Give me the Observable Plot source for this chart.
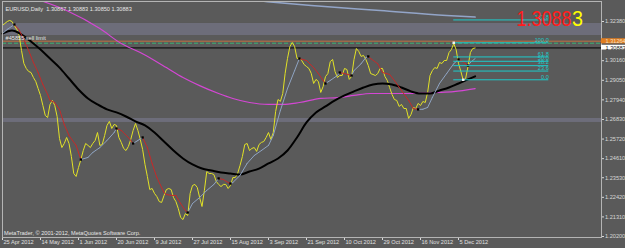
<!DOCTYPE html>
<html><head><meta charset="utf-8">
<script src="https://cdn.jsdelivr.net/npm/d3@7"></script>
<script src="https://cdn.jsdelivr.net/npm/@observablehq/plot@0.6"></script>
<style>
html,body{margin:0;padding:0;background:#5a5a5a;overflow:hidden;}
#chart svg{display:block;}
</style></head><body><div id="chart"></div>
<script>
// ---- data ----
const headerText = "EURUSD,Daily  1.30867 1.30883 1.30850 1.30883";
const copyrightText = "MetaTrader, \u00A9 2001-2012, MetaQuotes Software Corp.";
const orderText = "#45855 sell limit";
const dateBars = [0,16,32,48,64,80,96,112,128,144,160,176,192];
const dateLabels = ["25 Apr 2012","14 May 2012","1 Jun 2012","20 Jun 2012","9 Jul 2012","27 Jul 2012","15 Aug 2012","3 Sep 2012","21 Sep 2012","10 Oct 2012","29 Oct 2012","16 Nov 2012","5 Dec 2012"];
const priceTicks = [1.32380,1.30160,1.29050,1.27940,1.26830,1.25720,1.24610,1.23530,1.22420,1.21310,1.20200];

// daily close, one value per bar starting 25 Apr 2012
const closeValues = [
1.3216,1.3227,1.3238,1.3244,1.3238,1.3216,1.3193,1.3159,1.3074,1.3000,
1.2972,1.2955,1.2949,1.2921,1.2898,1.2858,1.2819,1.2762,1.2706,1.2694,
1.2768,1.2791,1.2762,1.2700,1.2575,1.2524,1.2547,1.2581,1.2547,1.2473,
1.2377,1.2360,1.2411,1.2456,1.2507,1.2547,1.2536,1.2524,1.2547,1.2564,
1.2609,1.2536,1.2541,1.2592,1.2649,1.2672,1.2632,1.2655,1.2649,1.2581,
1.2553,1.2519,1.2507,1.2530,1.2570,1.2621,1.2660,1.2621,1.2570,1.2513,
1.2428,1.2360,1.2286,1.2292,1.2264,1.2246,1.2218,1.2213,1.2252,1.2286,
1.2292,1.2286,1.2241,1.2218,1.2179,1.2128,1.2116,1.2150,1.2139,1.2264,
1.2309,1.2315,1.2298,1.2241,1.2190,1.2281,1.2388,1.2377,1.2377,1.2371,
1.2332,1.2315,1.2303,1.2315,1.2315,1.2292,1.2309,1.2354,1.2354,1.2377,
1.2422,1.2473,1.2541,1.2547,1.2507,1.2519,1.2524,1.2502,1.2541,1.2553,
1.2558,1.2581,1.2609,1.2570,1.2609,1.2728,1.2796,1.2785,1.2830,1.2944,
1.3029,1.3096,1.3119,1.3096,1.3029,1.3029,1.3017,1.2994,1.2983,1.2972,
1.2944,1.2887,1.2910,1.2898,1.2836,1.2870,1.2926,1.2943,1.3011,1.3023,
1.2955,1.2921,1.2932,1.2932,1.2972,1.2966,1.2910,1.2927,1.3023,1.3085,
1.3068,1.3040,1.3046,1.3023,1.2989,1.2943,1.2938,1.2932,1.2943,1.2972,
1.2972,1.2927,1.2904,1.2864,1.2825,1.2796,1.2791,1.2757,1.2768,1.2745,
1.2745,1.2689,1.2711,1.2751,1.2745,1.2774,1.2762,1.2785,1.2779,1.2836,
1.2932,1.2960,1.2977,1.2972,1.3006,1.3000,1.3017,1.3017,1.3062,1.3079,
1.3113,1.3079,1.3000,1.2955,1.2904,1.2915,1.2983,1.3062,1.3085,1.3088];

// colour-changing moving average
const maBars = [0,2,5,7,9,11,13,15,17,19,20,22,24,26,28,31,33,36,38,41,44,47,48,50,53,55,57,59,61,63,65,68,69,71,73,75,77,78,80,83,86,89,91,93,95,96,97,100,103,106,109,112,114,117,120,123,125,128,131,133,135,136,138,141,142,144,147,148,151,153,154,155,158,160,163,165,168,171,173,175,177,179,181,184,187,190,192,193,195,196,197,199];
const maValues = [1.3170,1.3193,1.3221,1.3190,1.3135,1.3074,1.3006,1.2949,1.2881,1.2825,1.2791,1.2779,1.2740,1.2655,1.2592,1.2536,1.2456,1.2468,1.2496,1.2524,1.2564,1.2609,1.2632,1.2621,1.2581,1.2547,1.2564,1.2581,1.2524,1.2434,1.2354,1.2269,1.2258,1.2253,1.2252,1.2207,1.2167,1.2156,1.2207,1.2241,1.2281,1.2315,1.2349,1.2343,1.2326,1.2320,1.2326,1.2366,1.2434,1.2479,1.2507,1.2536,1.2592,1.2734,1.2858,1.2960,1.3028,1.3017,1.2977,1.2943,1.2904,1.2887,1.2904,1.2932,1.2949,1.2943,1.2932,1.2960,1.2999,1.3034,1.3040,1.3028,1.2999,1.2949,1.2938,1.2904,1.2847,1.2791,1.2745,1.2740,1.2741,1.2751,1.2808,1.2887,1.2943,1.2999,1.3023,1.3017,1.2999,1.2988,1.3006,1.3028];

// thick black moving average
const slowBars = [0,4,8,12,16,20,24,28,32,36,40,44,48,52,56,60,64,68,72,76,80,84,88,92,96,100,104,108,112,116,120,124,128,132,136,140,144,148,152,156,160,164,168,172,176,180,184,188,192,196,199];
const slowValues = [1.3170,1.3187,1.3164,1.3125,1.3079,1.3028,1.2977,1.2915,1.2853,1.2802,1.2768,1.2740,1.2723,1.2700,1.2672,1.2649,1.2609,1.2558,1.2507,1.2462,1.2428,1.2405,1.2394,1.2383,1.2377,1.2371,1.2388,1.2405,1.2434,1.2462,1.2507,1.2581,1.2666,1.2723,1.2757,1.2791,1.2819,1.2842,1.2864,1.2881,1.2887,1.2881,1.2864,1.2842,1.2830,1.2830,1.2847,1.2864,1.2887,1.2910,1.2927];

// magenta moving average
const magBars = [16,27,41,50,58,64,69,76,83,91,97,104,112,118,125,134,141,148,155,169,183,190,199];
const magValues = [1.3357,1.3300,1.3198,1.3113,1.3062,1.3017,1.2977,1.2921,1.2875,1.2830,1.2802,1.2779,1.2768,1.2768,1.2779,1.2802,1.2807,1.2819,1.2830,1.2830,1.2836,1.2841,1.2858];

// long moving average (blue-grey, top right)
const longBars = [110,130,159,187,199];
const longValues = [1.3352,1.3329,1.3300,1.3272,1.3263];

// fibonacci retracement
const fibLevels = [0,23.6,38.2,50,61.8,100,161.8];
const fibHigh = 1.31174, fibLow = 1.29078, fibStartBar = 190, fibLowBar = 194, fibEndBar = 230;

// horizontal objects
const sellLimitPrice = 1.31264, sellLimitLabel = "1.31264";
const dashedPrice = 1.31151;
const bidPrice = 1.30883, bidLabel = "1.30883";
const zones = [[1.31587,1.32267],[1.26659,1.26885]];
const bigPriceMain = "1.3088", bigPriceLast = "3";

// ---- build ----
const XMAX = 599/2.375;
const Y0 = 1.20144, Y1 = 1.33513;
const closeData = closeValues.map((v,i)=>({b:i,v}));
const maPts = maBars.map((b,i)=>({b, v: maValues[i]}));
const segs = [];
const turns = [];
for (let i=0;i<maPts.length-1;i++){
  const a = maPts[i], c = maPts[i+1];
  const dir = c.v < a.v ? "down" : "up";
  segs.push({b:a.b,v:a.v,seg:i,dir},{b:c.b,v:c.v,seg:i,dir});
  if (i>0) {
    const p = maPts[i-1];
    const prevDir = a.v < p.v ? "down" : "up";
    if (prevDir !== dir) turns.push(a);
  }
}
const slowData = slowBars.map((b,i)=>({b,v:slowValues[i]}));
const magData = magBars.map((b,i)=>({b,v:magValues[i]}));
const longData = longBars.map((b,i)=>({b,v:longValues[i]}));
const fibPrice = l => fibLow + l/100*(fibHigh-fibLow);
const dateData = dateBars.map((b,i)=>({b,t:dateLabels[i]}));
const FS = 5.6;

const chart = Plot.plot({
  width: 625, height: 248,
  marginLeft: 2, marginRight: 24, marginTop: 1, marginBottom: 11,
  style: {background: "#5a5a5a", color: "#d8d8d8", fontSize: FS+"px", fontFamily: "'Liberation Sans', Arial, sans-serif"},
  x: {domain: [0, XMAX], ticks: dateBars, tickFormat: () => "", tickSize: 3, label: null},
  y: {domain: [Y0, Y1], axis: "right", ticks: priceTicks, tickFormat: d => d.toFixed(5), tickSize: 2, tickPadding: 1.5, label: null},
  marks: [
    Plot.rect(zones, {y1: d=>d[0], y2: d=>d[1], fill: "#6d6d7a"}),
    Plot.ruleY([sellLimitPrice], {stroke: "#c07040"}),
    Plot.ruleY([dashedPrice], {stroke: "#3cb371", strokeDasharray: "4,2"}),
    Plot.ruleY([bidPrice], {stroke: "#000000"}),
    Plot.line(longData, {x:"b", y:"v", stroke:"#93a5c8", curve:"monotone-x", clip:true}),
    Plot.line(magData, {x:"b", y:"v", stroke:"#d447d4", strokeWidth:1.2, curve:"monotone-x", clip:true}),
    Plot.line(closeData, {x:"b", y:"v", stroke:"#e2e226", strokeWidth:1}),
    Plot.line(slowData, {x:"b", y:"v", stroke:"#000000", strokeWidth:2, curve:"monotone-x"}),
    Plot.line(segs.filter(d=>d.dir==="down"), {x:"b", y:"v", z:"seg", stroke:"#c42a2a", strokeWidth:1}),
    Plot.line(segs.filter(d=>d.dir==="up"), {x:"b", y:"v", z:"seg", stroke:"#8fa4c2", strokeWidth:1}),
    Plot.dot(turns, {x:"b", y:"v", r:1.3, fill:"#000000", symbol:"square"}),
    Plot.ruleY(fibLevels, {y: fibPrice, x1: fibStartBar, x2: fibEndBar, stroke: "#1ecbcb"}),
    Plot.text(fibLevels, {y: fibPrice, x: fibEndBar, text: l => l.toFixed(1), textAnchor: "end", dy: -3, fill: "#1ecbcb", fontSize: FS}),
    Plot.dot([{b:fibStartBar, v:fibHigh},{b:fibLowBar, v:fibLow}], {x:"b", y:"v", r:1.4, fill:"#f0f0f0", symbol:"square"}),
    Plot.frame({stroke: "#b4b4b4"}),
    Plot.text([{b:1.3, v:sellLimitPrice, t:orderText}], {x:"b", y:"v", text:"t", dy:-3, textAnchor:"start", fill:"#e6e6e6", fontSize:FS}),
    Plot.text([headerText], {frameAnchor:"top-left", dx:3, dy:5.5, textAnchor:"start", fill:"#e6e6e6", fontSize:FS}),
    Plot.text([copyrightText], {frameAnchor:"bottom-left", dx:1.5, dy:-3, textAnchor:"start", fill:"#e6e6e6", fontSize:FS}),
    Plot.text(dateData, {x:"b", text:"t", frameAnchor:"bottom", dy:6.5, dx:1, textAnchor:"start", fill:"#e0e0e0", fontSize:FS}),
    Plot.rect([sellLimitPrice], {x1: XMAX, x2: XMAX, y1: d=>d-0.0015, y2: d=>d+0.0014, insetRight: -24, fill: "#e07d20"}),
    Plot.text([{b:XMAX, v:sellLimitPrice, t:sellLimitLabel}], {x:"b", y:"v", text:"t", dx:4, textAnchor:"start", fill:"#f6e0c0", fontSize:FS}),
    Plot.rect([bidPrice], {x1: XMAX, x2: XMAX, y1: d=>d-0.0012, y2: d=>d+0.0015, insetRight: -24, fill: "#ffffff"}),
    Plot.text([{b:XMAX, v:bidPrice, t:bidLabel}], {x:"b", y:"v", text:"t", dx:4, textAnchor:"start", fill:"#202020", fontSize:FS}),
    Plot.text([bigPriceMain], {frameAnchor:"top-right", dx:-30, dy:9, lineAnchor:"top", textAnchor:"end", fill:"#ff1c1c", fontSize:22}),
    Plot.text([bigPriceLast], {frameAnchor:"top-right", dx:-29.5, dy:9, lineAnchor:"top", textAnchor:"start", fill:"#ffff00", fontSize:22})
  ]
});
d3.select(chart).selectAll("text").filter(function(){return this.textContent===bigPriceMain;})
  .attr("textLength", 55).attr("lengthAdjust", "spacingAndGlyphs");
d3.select(chart).selectAll("text").filter(function(){return this.textContent===bigPriceLast;})
  .attr("textLength", 11).attr("lengthAdjust", "spacingAndGlyphs");
document.getElementById("chart").appendChild(chart);
</script></body></html>
